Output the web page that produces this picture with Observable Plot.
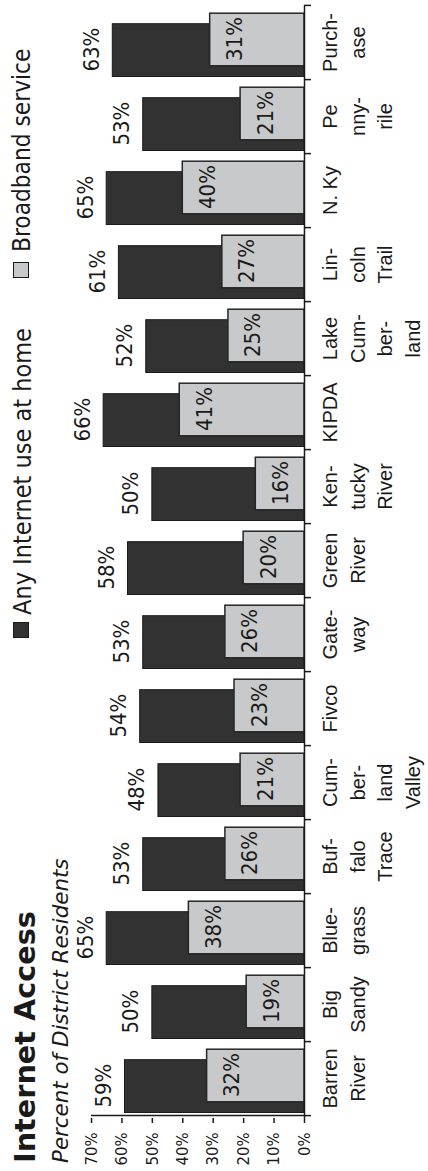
<!DOCTYPE html>
<html>
<head>
<meta charset="utf-8">
<script src="https://cdn.jsdelivr.net/npm/d3@7"></script>
<script src="https://cdn.jsdelivr.net/npm/@observablehq/plot@0.6"></script>
<style>
  html, body { margin: 0; padding: 0; background: #fff; overflow: hidden; }
  #rot { position: absolute; left: 0; top: 0; width: 1171px; height: 428px;
         transform-origin: 0 0; transform: translateY(1171px) rotate(-90deg); background: #fff; }
  .t { position: absolute; white-space: nowrap; color: #1a1a1a; }
  #title { left: 8px; top: 11px; font: bold 28.7px/28.7px "DejaVu Sans", sans-serif; }
  #subtitle { left: 8px; top: 50px; font: oblique 21.4px/21.4px "DejaVu Sans", sans-serif; }
  .leg { top: 10.3px; font: 25px/25px "DejaVu Sans Condensed", "DejaVu Sans", sans-serif; font-stretch: condensed; }
  .sw { position: absolute; top: 13px; width: 14px; height: 14px; border: 1px solid #1a1a1a; }
  #chart { position: absolute; left: 0; top: 0; }
</style>
</head>
<body>
<div id="rot">
  <div id="chart"></div>
  <div class="t" id="title">Internet Access</div>
  <div class="t" id="subtitle">Percent of District Residents</div>
  <div class="sw" style="left:533px; background:#323232;"></div>
  <div class="t leg" style="left:556px;">Any Internet use at home</div>
  <div class="sw" style="left:893px; background:#c8c9cb;"></div>
  <div class="t leg" style="left:919px; font-size:24.2px;">Broadband service</div>
</div>
<script>
const districts = ["Barren River","Big Sandy","Bluegrass","Buffalo Trace","Cumberland Valley","Fivco","Gateway","Green River","Kentucky River","KIPDA","Lake Cumberland","Lincoln Trail","N. Ky","Pennyrile","Purchase"];
const districtLabels = ["Barren\nRiver","Big\nSandy","Blue-\ngrass","Buf-\nfalo\nTrace","Cum-\nber-\nland\nValley","Fivco","Gate-\nway","Green\nRiver","Ken-\ntucky\nRiver","KIPDA","Lake\nCum-\nber-\nland","Lin-\ncoln\nTrail","N. Ky","Pe\nnny-\nrile","Purch-\nase"];
const anyUse = [59,50,65,53,48,54,53,58,50,66,52,61,65,53,63];
const broadband = [32,19,38,26,21,23,26,20,16,41,25,27,40,21,31];
const yTicks = [0,10,20,30,40,50,60,70];

const data = districts.map((d, i) => ({district: d, any: anyUse[i], broadband: broadband[i]}));
const labelOf = Object.fromEntries(districts.map((d, i) => [d, districtLabels[i]]));

const W = 1171, H = 428, ML = 53, MR = 5, MT = 91, MB = 124;
const bw = (W - ML - MR) / districts.length;
const sans = "'Liberation Sans', Arial, sans-serif";
const cond = "'DejaVu Sans Condensed', 'DejaVu Sans', sans-serif";
const ink = "#1a1a1a";

const chart = Plot.plot({
  width: W, height: H,
  marginLeft: ML, marginRight: MR, marginTop: MT, marginBottom: MB,
  style: {background: "transparent", color: ink, overflow: "visible"},
  x: {type: "band", domain: districts, padding: 0, label: null},
  y: {domain: [0, 70], label: null},
  marks: [
    Plot.barY(data, {x: "district", y: "any", fill: "#323232", stroke: ink, strokeWidth: 1,
      insetLeft: 3.5, insetRight: bw - 56.5}),
    Plot.barY(data, {x: "district", y: "broadband", fill: "#c8c9cb", stroke: "#262626", strokeWidth: 1.5,
      insetLeft: 14.2, insetRight: bw - 67}),
    Plot.text(data, {x: "district", y: "any", text: d => d.any + "%", dx: 30 - bw / 2, dy: -14,
      lineAnchor: "bottom", fontSize: 22, fontFamily: cond, fill: ink}),
    Plot.text(data, {x: "district", y: "broadband", text: d => d.broadband + "%", dx: 40.6 - bw / 2, dy: 32,
      lineAnchor: "bottom", fontSize: 22, fontFamily: cond, fill: ink}),
    Plot.ruleY([0], {stroke: ink, strokeWidth: 1.5}),
    Plot.ruleX([districts[0]], {y1: 0, y2: 70, dx: -bw / 2, stroke: ink, strokeWidth: 1.5}),
    Plot.axisY({ticks: yTicks, tickFormat: d => d + "%", tickSize: 5, tickPadding: 10,
      fontSize: 16.5, fontFamily: cond, stroke: ink, strokeWidth: 1.5, fill: ink, label: null}),
    Plot.axisX({ticks: districts, tickSize: 7, dx: -bw / 2, tickFormat: () => "", stroke: ink, strokeWidth: 1.5, label: null}),
    Plot.axisX({ticks: [districts[districts.length - 1]], tickSize: 7, dx: bw / 2, tickFormat: () => "", stroke: ink, strokeWidth: 1.5, label: null}),
    Plot.axisX({ticks: districts, tickFormat: d => labelOf[d], tickSize: 0, tickPadding: 13,
      fontSize: 20, lineHeight: 1.38, fontFamily: sans, fill: ink, label: null})
  ]
});
document.getElementById("chart").appendChild(chart);
</script>
</body>
</html>
